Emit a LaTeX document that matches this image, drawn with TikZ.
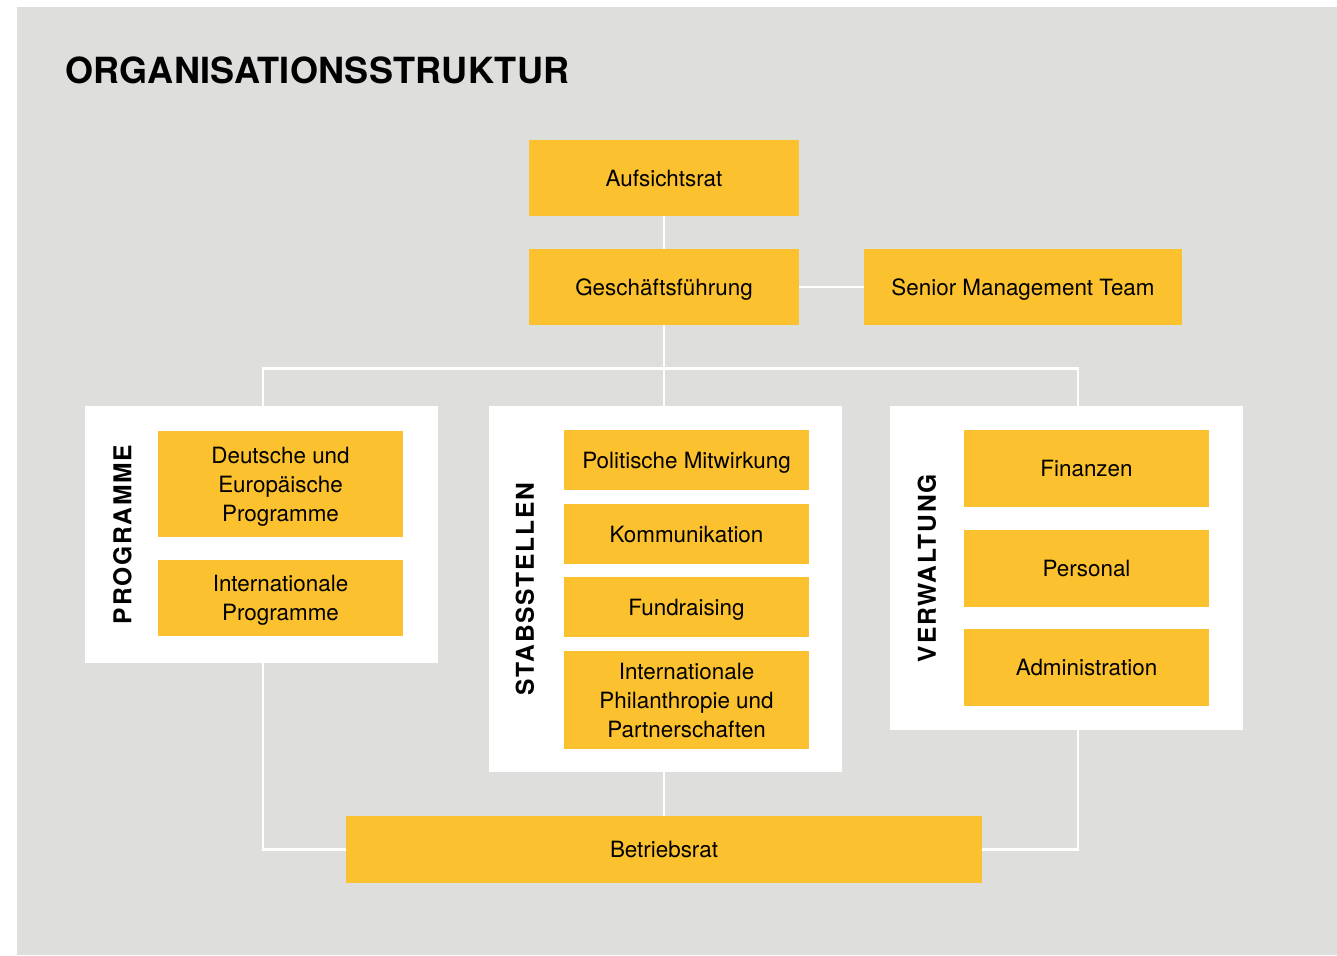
\documentclass[tikz,border=0pt]{standalone}
\usepackage{fontspec}
\setmainfont{TeX Gyre Heros}
\newfontfamily\titlefont[LetterSpace=0.8]{TeX Gyre Heros}
\newfontfamily\grouplabelfont[LetterSpace=7]{TeX Gyre Heros}
\definecolor{bggray}{RGB}{222,222,220}
\definecolor{orgyellow}{RGB}{252,193,46}
\begin{document}
\begin{tikzpicture}[
  box/.style={fill=orgyellow,inner sep=0pt,align=center,text depth=0pt,minimum width=4.9cm,font=\fontsize{12.75}{16.5}\selectfont},
  panel/.style={fill=white,inner sep=0pt,minimum width=7.06cm},
  grouplabel/.style={rotate=90,inner sep=0pt,font=\grouplabelfont\bfseries\fontsize{14}{16}\selectfont},
  conn/.style={draw=white,line width=1.6pt}]
\useasboundingbox (0,0) rectangle (26.74,-19.1);
\fill[bggray] (.34,-.14) rectangle (26.74,-19.1);
\node[anchor=base west,inner sep=0pt,font=\titlefont\bfseries\fontsize{20.5}{24}\selectfont] (title) at (1.30,-1.67) {ORGANISATIONSSTRUKTUR};
\node[box,minimum width=5.4cm,minimum height=1.52cm] (aufsicht) at (13.28,-3.56) {Aufsichtsrat};
\node[box,minimum width=5.4cm,minimum height=1.52cm] (gf) at (13.28,-5.74) {Geschäftsführung};
\node[box,minimum width=6.36cm,minimum height=1.52cm] (smt) at (20.46,-5.74) {Senior Management Team};
\node[panel,minimum height=5.14cm] (prog) at (5.23,-10.69) {};
\node[panel,minimum height=7.32cm] (stab) at (13.31,-11.78) {};
\node[panel,minimum height=6.48cm] (verw) at (21.33,-11.36) {};
\node[grouplabel] (proglabel) at (2.45,-10.69) {PROGRAMME};
\node[grouplabel] (stablabel) at (10.50,-11.78) {STABSSTELLEN};
\node[grouplabel] (verwlabel) at (18.54,-11.36) {VERWALTUNG};
\node[box,minimum height=2.12cm] (dep) at (5.61,-9.68) {Deutsche und\\Europäische\\Programme};
\node[box,minimum height=1.52cm] (ip) at (5.61,-11.96) {Internationale\\Programme};
\node[box,minimum height=1.2cm] (polit) at (13.73,-9.2) {Politische Mitwirkung};
\node[box,minimum height=1.2cm] (komm) at (13.73,-10.68) {Kommunikation};
\node[box,minimum height=1.2cm] (fund) at (13.73,-12.14) {Fundraising};
\node[box,minimum height=1.96cm] (ipp) at (13.73,-14.0) {Internationale\\Philanthropie und\\Partnerschaften};
\node[box,minimum height=1.54cm] (fin) at (21.73,-9.36) {Finanzen};
\node[box,minimum height=1.54cm] (pers) at (21.73,-11.36) {Personal};
\node[box,minimum height=1.54cm] (admin) at (21.73,-13.34) {Administration};
\node[box,minimum width=12.72cm,minimum height=1.34cm] (betr) at (13.28,-16.99) {Betriebsrat};
\coordinate (bus) at (13.28,-7.37);
\draw[conn] (aufsicht.south) -- (gf.north);
\draw[conn] (gf.east) -- (smt.west);
\draw[conn] (gf.south) -- (gf.south |- stab.north);
\draw[conn] ([xshift=.03cm]prog.north) |- (bus) -| ([xshift=.23cm]verw.north);
\draw[conn] ([xshift=.03cm]prog.south) |- (betr.west);
\draw[conn] (gf.south |- stab.south) -- (gf.south |- betr.north);
\draw[conn] ([xshift=.23cm]verw.south) |- (betr.east);
\end{tikzpicture}
\end{document}
